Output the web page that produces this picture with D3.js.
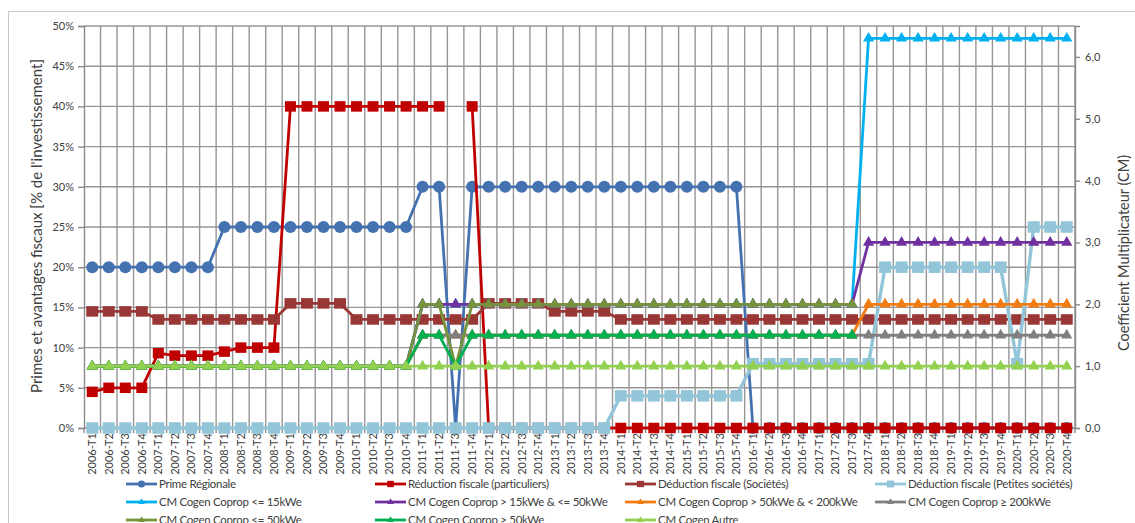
<!DOCTYPE html>
<html>
<head>
<meta charset="utf-8">
<script src="https://cdn.jsdelivr.net/npm/d3@7"></script>
<style>
  body { margin: 0; background: #fff; }
  text { font-family: Lato, "Open Sans", sans-serif; fill: #404040; }
</style>
</head>
<body>
<div id="chart"></div>
<script>
// categories (quarters)
var years = [2006,2007,2008,2009,2010,2011,2012,2013,2014,2015,2016,2017,2018,2019,2020];
var quarters = ["T1","T2","T3","T4"];
var labels = [];
years.forEach(function(y) { quarters.forEach(function(q) { labels.push(y + "-" + q); }); });

// left axis series, % of investment
var primeRegionale = [20,20,20,20,20,20,20,20, 25,25,25,25,25,25,25,25,25,25,25,25,
  30,30,0,30,30,30,30,30,30,30,30,30,30,30,30,30,30,30,30,30,
  0,0,0,0,0,0,0,0,0,0,0,0,0,0,0,0,0,0,0,0];
var reductionPart = [4.5,5,5,5, 9.3,9,9,9, 9.5,10,10,10,
  40,40,40,40,40,40,40,40,40,40, null, 40,
  0,0,0,0,0,0,0,0,0,0,0,0,0,0,0,0,0,0,0,0,0,0,0,0,0,0,0,0,0,0,0,0,0,0,0,0];
var deductionSoc = [14.5,14.5,14.5,14.5, 13.5,13.5,13.5,13.5,13.5,13.5,13.5,13.5,
  15.5,15.5,15.5,15.5, 13.5,13.5,13.5,13.5,13.5,13.5,13.5,13.5,
  15.5,15.5,15.5,15.5, 14.5,14.5,14.5,14.5,
  13.5,13.5,13.5,13.5,13.5,13.5,13.5,13.5,13.5,13.5,13.5,13.5,13.5,13.5,
  13.5,13.5,13.5,13.5,13.5,13.5,13.5,13.5,13.5,13.5,13.5,13.5,13.5,13.5];
var deductionPetites = [0,0,0,0,0,0,0,0,0,0,0,0,0,0,0,0,0,0,0,0,0,0,0,0,0,0,0,0,0,0,0,0,
  4,4,4,4,4,4,4,4, 8,8,8,8,8,8,8,8, 20,20,20,20,20,20,20,20, 8, 25,25,25];

// right axis series, CM
var cmLe15 = [1,1,1,1,1,1,1,1,1,1,1,1,1,1,1,1,1,1,1,1,
  2,2,2,2,2,2,2,2,2,2,2,2,2,2,2,2,2,2,2,2,2,2,2,2,2,2,2,
  6.3,6.3,6.3,6.3,6.3,6.3,6.3,6.3,6.3,6.3,6.3,6.3,6.3];
var cm15to50 = [1,1,1,1,1,1,1,1,1,1,1,1,1,1,1,1,1,1,1,1,
  2,2,2,2,2,2,2,2,2,2,2,2,2,2,2,2,2,2,2,2,2,2,2,2,2,2,2,
  3,3,3,3,3,3,3,3,3,3,3,3,3];
var cm50to200 = [1,1,1,1,1,1,1,1,1,1,1,1,1,1,1,1,1,1,1,1,
  1.5,1.5,1.5,1.5,1.5,1.5,1.5,1.5,1.5,1.5,1.5,1.5,1.5,1.5,1.5,1.5,1.5,1.5,1.5,1.5,1.5,1.5,1.5,1.5,1.5,1.5,1.5,
  2,2,2,2,2,2,2,2,2,2,2,2,2];
var cmGe200 = [1,1,1,1,1,1,1,1,1,1,1,1,1,1,1,1,1,1,1,1,
  1.5,1.5,1.5,1.5,1.5,1.5,1.5,1.5,1.5,1.5,1.5,1.5,1.5,1.5,1.5,1.5,1.5,1.5,1.5,1.5,1.5,1.5,1.5,1.5,1.5,1.5,1.5,
  1.5,1.5,1.5,1.5,1.5,1.5,1.5,1.5,1.5,1.5,1.5,1.5,1.5];
var cmLe50 = [1,1,1,1,1,1,1,1,1,1,1,1,1,1,1,1,1,1,1,1,
  2,2,1,2,2,2,2,2,2,2,2,2,2,2,2,2,2,2,2,2,2,2,2,2,2,2,2,
  null,null,null,null,null,null,null,null,null,null,null,null,null];
var cmGt50 = [1,1,1,1,1,1,1,1,1,1,1,1,1,1,1,1,1,1,1,1,
  1.5,1.5,1,1.5,1.5,1.5,1.5,1.5,1.5,1.5,1.5,1.5,1.5,1.5,1.5,1.5,1.5,1.5,1.5,1.5,1.5,1.5,1.5,1.5,1.5,1.5,1.5,
  null,null,null,null,null,null,null,null,null,null,null,null,null];
var cmAutre = [1,1,1,1,1,1,1,1,1,1,1,1,1,1,1,1,1,1,1,1,1,1,1,1,1,1,1,1,1,1,
  1,1,1,1,1,1,1,1,1,1,1,1,1,1,1,1,1,1,1,1,1,1,1,1,1,1,1,1,1,1];

var series = [
  {name: "Prime Régionale", values: primeRegionale, axis: "L", color: "#4472b0", mark: "circle"},
  {name: "Réduction fiscale (particuliers)", values: reductionPart, axis: "L", color: "#c00000", mark: "square"},
  {name: "Déduction fiscale (Sociétés)", values: deductionSoc, axis: "L", color: "#993735", mark: "squareW"},
  {name: "Déduction fiscale (Petites sociétés)", values: deductionPetites, axis: "L", color: "#93c5d8", mark: "squareL"},
  {name: "CM Cogen Coprop <= 15kWe", values: cmLe15, axis: "R", color: "#00b0f0", mark: "tri"},
  {name: "CM Cogen Coprop > 15kWe & <= 50kWe", values: cm15to50, axis: "R", color: "#7030a0", mark: "tri"},
  {name: "CM Cogen Coprop > 50kWe & < 200kWe", values: cm50to200, axis: "R", color: "#f07c12", mark: "tri"},
  {name: "CM Cogen Coprop \u2265 200kWe", values: cmGe200, axis: "R", color: "#7f7f7f", mark: "tri"},
  {name: "CM Cogen Coprop <= 50kWe", values: cmLe50, axis: "R", color: "#77933c", mark: "tri"},
  {name: "CM Cogen Coprop > 50kWe", values: cmGt50, axis: "R", color: "#00b050", mark: "tri"},
  {name: "CM Cogen Autre", values: cmAutre, axis: "R", color: "#92d050", mark: "tri"}
];

var width = 1135, height = 523;
var plotL = 84, plotR = 1075, plotT = 26, plotB = 428;

var svg = d3.select("#chart").append("svg")
    .attr("width", width)
    .attr("height", height);

svg.append("rect")
    .attr("x", 8.5).attr("y", 11.5)
    .attr("width", 1140).attr("height", 540)
    .attr("fill", "#fff").attr("stroke", "#c8c8c8");

var x = d3.scaleBand().domain(labels).range([plotL, plotR]).padding(0);
var cx = function(i) { return x(labels[i]) + x.bandwidth() / 2; };
var yL = d3.scaleLinear().domain([0, 50]).range([plotB, plotT]);
var yR = d3.scaleLinear().domain([0, 6.5]).range([plotB, plotT]);

// grid
var grid = svg.append("g").attr("stroke", "#969696").attr("stroke-width", 1.4);
grid.selectAll("line.h")
    .data(d3.range(5, 51, 5))
    .enter().append("line")
    .attr("x1", plotL).attr("x2", plotR)
    .attr("y1", function(d) { return yL(d); })
    .attr("y2", function(d) { return yL(d); });
grid.selectAll("line.v")
    .data(labels)
    .enter().append("line")
    .attr("x1", function(d) { return x(d) + x.bandwidth(); })
    .attr("x2", function(d) { return x(d) + x.bandwidth(); })
    .attr("y1", plotT).attr("y2", plotB);

// axes
var axL = svg.append("g")
    .attr("transform", "translate(" + plotL + ",0)")
    .call(d3.axisLeft(yL).tickValues(d3.range(0, 51, 5)).tickSize(6).tickPadding(4)
      .tickFormat(function(d) { return d + "%"; }));
var axR = svg.append("g")
    .attr("transform", "translate(" + plotR + ",0)")
    .call(d3.axisRight(yR).tickValues(d3.range(0, 7, 1)).tickSize(5).tickPadding(5)
      .tickFormat(function(d) { return d3.format(".1f")(d).replace(".", ","); }));
var axB = svg.append("g")
    .attr("transform", "translate(0," + plotB + ")")
    .call(d3.axisBottom(x).tickSize(0).tickPadding(0));
axB.selectAll(".tick text")
    .attr("transform", "rotate(-90)")
    .attr("x", -5).attr("y", 0).attr("dy", "0.35em")
    .attr("text-anchor", "end");
axB.selectAll("line.bt")
    .data([null].concat(labels))
    .enter().append("line")
    .attr("class", "bt")
    .attr("x1", function(d) { return d == null ? plotL : x(d) + x.bandwidth(); })
    .attr("x2", function(d) { return d == null ? plotL : x(d) + x.bandwidth(); })
    .attr("y1", 0).attr("y2", 5);
[axL, axR, axB].forEach(function(a) {
  a.selectAll("path.domain").attr("stroke", "#8a8a8a").attr("stroke-width", 1.4);
  a.selectAll("line").attr("stroke", "#8a8a8a").attr("stroke-width", 1.4);
  a.selectAll("text").style("font-size", "11px").attr("fill", "#404040");
});
axB.select("path.domain").remove();
svg.append("line")
    .attr("x1", plotL).attr("x2", plotR).attr("y1", plotB).attr("y2", plotB)
    .attr("stroke", "#8a8a8a").attr("stroke-width", 1.4);

// axis titles
svg.append("text")
    .attr("transform", "translate(37,226) rotate(-90)")
    .attr("text-anchor", "middle").attr("dy", "0.35em")
    .style("font-size", "15px")
    .text("Primes et avantages fiscaux [% de l'investissement]");
svg.append("text")
    .attr("transform", "translate(1124,253) rotate(-90)")
    .attr("text-anchor", "middle").attr("dy", "0.35em")
    .style("font-size", "14.5px")
    .text("Coefficient Multiplicateur (CM)");

function drawMark(g, s, px, py, scale) {
  var k = scale || 1;
  if (s.mark === "circle") {
    g.append("circle").attr("cx", px).attr("cy", py).attr("r", 6 * k).attr("fill", s.color);
  } else if (s.mark === "tri") {
    g.append("path")
      .attr("d", d3.symbol().type(d3.symbolTriangle).size(54 * k * k)())
      .attr("transform", "translate(" + px + "," + py + ")")
      .attr("fill", s.color);
  } else {
    var w = (s.mark === "squareW" ? 12 : s.mark === "squareL" ? 12 : 11) * k;
    var h = (s.mark === "squareL" ? 11.5 : 10.5) * k;
    g.append("rect").attr("x", px - w / 2).attr("y", py - h / 2)
      .attr("width", w).attr("height", h).attr("fill", s.color);
  }
}

// series
series.forEach(function(s) {
  var y = s.axis === "L" ? yL : yR;
  var g = svg.append("g");
  var line = d3.line()
      .defined(function(d) { return d != null; })
      .x(function(d, i) { return cx(i); })
      .y(function(d) { return y(d); });
  g.append("path")
      .attr("d", line(s.values))
      .attr("fill", "none")
      .attr("stroke", s.color)
      .attr("stroke-width", s.mark === "squareL" ? 3.4 : 2.8)
      .attr("stroke-linejoin", "round");
  s.values.forEach(function(v, i) {
    if (v != null) drawMark(g, s, cx(i), y(v));
  });
});

// legend
var legX = [126, 375, 625, 875], legY = [484, 502, 520];
var legRows = [[0, 1, 2, 3], [4, 5, 6, 7], [8, 9, 10]];
legRows.forEach(function(row, r) {
  row.forEach(function(si, c) {
    var s = series[si];
    var g = svg.append("g");
    g.append("line")
      .attr("x1", legX[c]).attr("x2", legX[c] + 31)
      .attr("y1", legY[r]).attr("y2", legY[r])
      .attr("stroke", s.color).attr("stroke-width", 2.8);
    drawMark(g, s, legX[c] + 15.5, legY[r], 0.6);
    g.append("text")
      .attr("x", legX[c] + 33).attr("y", legY[r]).attr("dy", "0.35em")
      .style("font-size", "11.5px")
      .style("letter-spacing", "-0.3px")
      .text(s.name);
  });
});
</script>
</body>
</html>
